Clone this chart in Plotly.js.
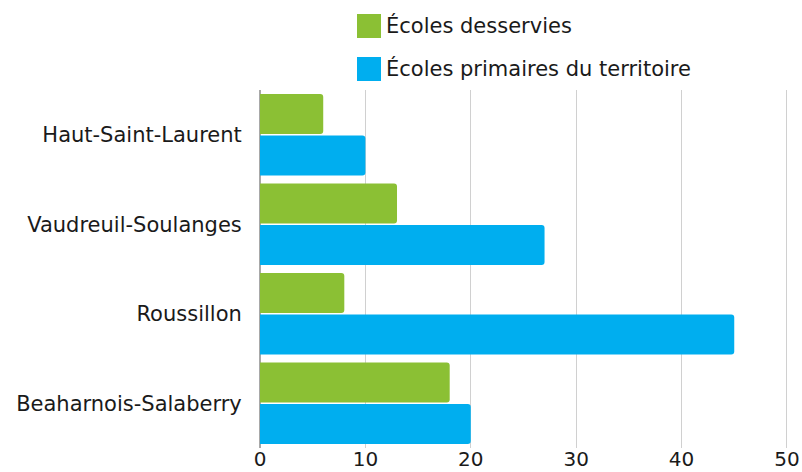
<!DOCTYPE html>
<html>
<head>
<meta charset="utf-8">
<script src="https://cdn.plot.ly/plotly-3.0.1.min.js"></script>
<style>html,body{margin:0;padding:0;background:#fff}#chart{width:802px;height:472px}</style>
</head>
<body>
<div id="chart"></div>
<script>
const categories = ["Haut-Saint-Laurent", "Vaudreuil-Soulanges", "Roussillon", "Beaharnois-Salaberry"];
const seriesNames = ["Écoles desservies", "Écoles primaires du territoire"];
const ecolesDesservies = [6, 13, 8, 18];
const ecolesPrimaires = [10, 27, 45, 20];
const xTicks = [0, 10, 20, 30, 40, 50];
const colors = ["#8BC034", "#00AEEF"];

const W = 802, H = 472;
const L = 260, R = 14, T = 90, B = 24;
const pw = W - L - R, ph = H - T - B;
const px2x = p => (p - L) / pw;
const py2y = p => (H - B - p) / ph;
const FONT = 'DejaVu Sans, sans-serif';

const traces = [ecolesDesservies, ecolesPrimaires].map((vals, i) => ({
  type: 'bar', orientation: 'h', name: seriesNames[i],
  y: categories, x: vals,
  marker: {color: colors[i], cornerradius: 3},
  hoverinfo: 'x+y'
}));

const shapes = [], annotations = [];
const legendTop = [14, 57];
seriesNames.forEach((n, i) => {
  shapes.push({type: 'rect', xref: 'paper', yref: 'paper',
    x0: px2x(357), x1: px2x(381), y0: py2y(legendTop[i] + 24), y1: py2y(legendTop[i]),
    fillcolor: colors[i], line: {width: 0}});
  annotations.push({xref: 'paper', yref: 'paper', x: px2x(384), y: py2y(legendTop[i] + 12),
    xanchor: 'left', yanchor: 'middle', showarrow: false, text: n,
    font: {size: 21, color: '#1a1a1a', family: FONT}});
});

const layout = {
  width: W, height: H,
  margin: {l: L, r: R, t: T, b: B, pad: 0},
  paper_bgcolor: '#fff', plot_bgcolor: '#fff',
  font: {family: FONT, size: 21, color: '#1a1a1a'},
  barmode: 'group', bargap: 0.07, bargroupgap: 0.04,
  showlegend: false,
  xaxis: {range: [0, 50.1], tickvals: xTicks, ticktext: xTicks.map(String),
    showgrid: true, gridcolor: '#d0d0d0', gridwidth: 1, zeroline: true, zerolinecolor: '#a8a8a8', zerolinewidth: 1.5,
    showline: false, ticks: '', tickfont: {size: 20}, ticklabelstandoff: -3, fixedrange: true},
  yaxis: {autorange: 'reversed', showgrid: false, showline: false, ticks: 'outside', ticklen: 13, tickcolor: 'rgba(0,0,0,0)',
    tickfont: {size: 21}, fixedrange: true},
  shapes: shapes, annotations: annotations
};

Plotly.newPlot('chart', traces, layout, {displayModeBar: false, staticPlot: true});
</script>
</body>
</html>
